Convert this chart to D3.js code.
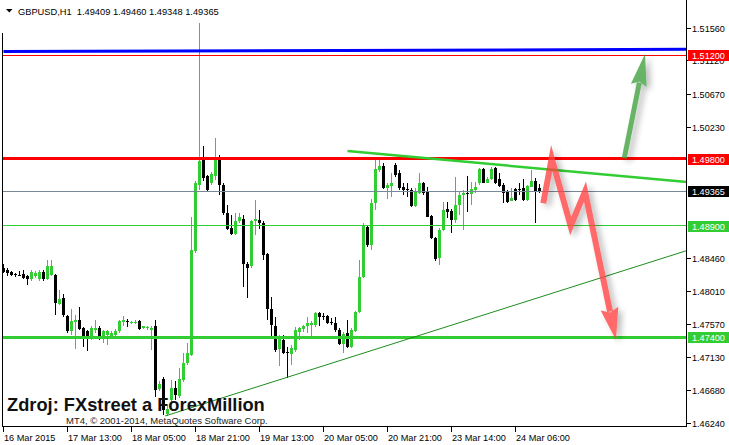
<!DOCTYPE html>
<html><head><meta charset="utf-8">
<script src="https://cdn.jsdelivr.net/npm/d3@7"></script>
<style>body{margin:0;background:#fff}svg{display:block}text{font-family:"Liberation Sans",Arial,sans-serif}</style>
</head><body><svg id="c" width="729" height="445"></svg>
<script>
// ---------------- DATA ----------------
const symbol = "GBPUSD,H1";
const lastQuote = [1.49409, 1.49460, 1.49348, 1.49365];

const open = [
1.48325,1.48298,1.48271,1.48244,1.48238,1.48251,1.48218,1.48177,1.48224,1.48184,
1.48271,1.48190,1.48238,1.48238,1.47847,1.47921,1.47685,1.47477,1.47598,1.47625,
1.47517,1.47477,1.47396,1.47497,1.47517,1.47396,1.47430,1.47396,1.47430,1.47477,
1.47598,1.47618,1.47591,1.47591,1.47611,1.47517,1.47524,1.47497,1.47544,1.46702,
1.46837,1.46365,1.46554,1.46709,1.46601,1.46823,1.47052,1.47160,1.48554,1.49450,
1.49786,1.49564,1.49470,1.49564,1.49806,1.49450,1.49066,1.48870,1.48796,1.48958,
1.48998,1.48392,1.48352,1.48958,1.48978,1.48931,1.48514,1.47786,1.47551,1.47241,
1.47362,1.47200,1.47173,1.47227,1.47474,1.47506,1.47551,1.47560,1.47564,1.47730,
1.47685,1.47685,1.47609,1.47595,1.47497,1.47308,1.47452,1.47264,1.47488,1.47739,
1.48206,1.48888,1.48641,1.49203,1.49651,1.49705,1.49405,1.49436,1.49719,1.49607,
1.49427,1.49389,1.49382,1.49167,1.49338,1.49473,1.49359,1.49032,1.48732,1.48462,
1.48843,1.49122,1.49103,1.48978,1.49180,1.49315,1.49346,1.49328,1.49382,1.49480,
1.49661,1.49480,1.49526,1.49674,1.49526,1.49450,1.49359,1.49238,1.49392,1.49396,
1.49405,1.49247,1.49427,1.49507,1.49409];

const high = [
1.48392,1.48332,1.48285,1.48265,1.48285,1.48298,1.48238,1.48305,1.48291,1.48305,
1.48298,1.48439,1.48439,1.48251,1.48035,1.47988,1.47699,1.47773,1.47699,1.47800,
1.47531,1.47497,1.47544,1.47631,1.47544,1.47497,1.47497,1.47477,1.47510,1.47631,
1.47685,1.47638,1.47611,1.47625,1.47625,1.47551,1.47551,1.47557,1.47631,1.46803,
1.46870,1.46473,1.46823,1.46810,1.46985,1.47187,1.47322,1.49018,1.49497,1.51627,
1.49968,1.49584,1.49631,1.50076,1.49854,1.49470,1.49180,1.49045,1.49066,1.49072,
1.49045,1.48419,1.48978,1.49247,1.49113,1.48965,1.48527,1.47941,1.47672,1.47430,
1.47430,1.47274,1.47295,1.47541,1.47541,1.47564,1.47672,1.47618,1.47743,1.47743,
1.47721,1.47699,1.47654,1.47676,1.47524,1.47474,1.47631,1.47524,1.47757,1.48439,
1.48938,1.48911,1.49257,1.49809,1.49809,1.49742,1.49473,1.49615,1.49742,1.49651,
1.49473,1.49473,1.49405,1.49405,1.49607,1.49490,1.49427,1.49045,1.48753,1.48866,
1.49225,1.49225,1.49126,1.49553,1.49373,1.49382,1.49571,1.49494,1.49494,1.49674,
1.49674,1.49553,1.49688,1.49696,1.49607,1.49473,1.49382,1.49405,1.49405,1.49473,
1.49526,1.49450,1.49651,1.49544,1.49460];

const low = [
1.48258,1.48224,1.48224,1.48211,1.48218,1.48177,1.48109,1.48157,1.48197,1.48157,
1.48163,1.48170,1.48224,1.47705,1.47834,1.47678,1.47450,1.47430,1.47234,1.47497,
1.47274,1.47207,1.47362,1.47450,1.47362,1.47328,1.47295,1.47383,1.47416,1.47450,
1.47551,1.47531,1.47577,1.47577,1.47497,1.47504,1.47497,1.47227,1.46594,1.46675,
1.46352,1.46338,1.46527,1.46554,1.46581,1.46796,1.47025,1.47140,1.48527,1.49382,
1.49497,1.49355,1.49450,1.49517,1.49315,1.49045,1.48843,1.48776,1.48776,1.48938,
1.48082,1.47921,1.48332,1.48776,1.48863,1.48439,1.47631,1.47416,1.47200,1.47012,
1.47173,1.46846,1.47025,1.47204,1.47362,1.47470,1.47457,1.47406,1.47541,1.47551,
1.47631,1.47577,1.47564,1.47474,1.47295,1.47191,1.47250,1.47250,1.47474,1.47721,
1.48193,1.48619,1.48574,1.49113,1.49628,1.49392,1.49257,1.49292,1.49561,1.49382,
1.49315,1.49292,1.49157,1.49157,1.49328,1.49315,1.49019,1.48718,1.48430,1.48372,
1.48834,1.49001,1.48799,1.48942,1.49045,1.48843,1.49090,1.49180,1.49338,1.49450,
1.49473,1.49473,1.49517,1.49463,1.49427,1.49211,1.49203,1.49234,1.49238,1.49315,
1.49238,1.49238,1.49419,1.48934,1.49348];

const close = [
1.48271,1.48258,1.48238,1.48231,1.48231,1.48197,1.48190,1.48271,1.48258,1.48271,
1.48190,1.48359,1.48352,1.47854,1.47908,1.47699,1.47477,1.47611,1.47625,1.47510,
1.47396,1.47396,1.47517,1.47517,1.47396,1.47477,1.47477,1.47450,1.47484,1.47611,
1.47625,1.47598,1.47598,1.47598,1.47510,1.47544,1.47531,1.47524,1.46689,1.46765,
1.46419,1.46433,1.46709,1.46621,1.46843,1.47052,1.47180,1.48574,1.49470,1.49766,
1.49537,1.49382,1.49604,1.49786,1.49450,1.49066,1.48863,1.48796,1.48965,1.49012,
1.48379,1.48325,1.48958,1.48992,1.48931,1.48507,1.47786,1.47564,1.47227,1.47376,
1.47187,1.47180,1.47248,1.47497,1.47520,1.47551,1.47584,1.47595,1.47730,1.47676,
1.47668,1.47595,1.47587,1.47497,1.47308,1.47443,1.47264,1.47497,1.47739,1.48214,
1.48897,1.48641,1.49211,1.49661,1.49705,1.49405,1.49450,1.49480,1.49584,1.49405,
1.49382,1.49378,1.49167,1.49373,1.49473,1.49338,1.49023,1.48732,1.48449,1.48843,
1.49113,1.49090,1.48978,1.49180,1.49315,1.49346,1.49328,1.49392,1.49427,1.49661,
1.49480,1.49526,1.49661,1.49473,1.49436,1.49346,1.49225,1.49270,1.49247,1.49386,
1.49247,1.49436,1.49507,1.49359,1.49365];

const timeTickBars = [0, 16, 32, 48, 64, 80, 96, 112, 128];
const timeLabels = ["16 Mar 2015","17 Mar 13:00","18 Mar 05:00","18 Mar 21:00","19 Mar 13:00",
                    "20 Mar 05:00","20 Mar 21:00","23 Mar 14:00","24 Mar 06:00"];
const priceTicks = [1.51560,1.51120,1.50670,1.50230,1.48460,1.48010,1.47570,1.47130,1.46680,1.46240];
const levelPrices = [1.51200, 1.49800, 1.49365, 1.48900, 1.47400];

// trend lines / annotations as [barIndex, price]
const blueLine   = [[0, 1.51247], [170.875, 1.51277]];
const upperTrend = [[86, 1.49907], [170.875, 1.49490]];
const lowerTrend = [[40.4, 1.46338], [170.875, 1.48567]];
const redPath    = [[134.95, 1.49203], [137.05, 1.49809], [141.8, 1.48897], [145.375, 1.49359], [153.125, 1.47362]];
const greenPath  = [[155.2, 1.49809], [160.375, 1.51214]];

const watermark = "Zdroj: FXstreet a ForexMillion";
const copyright = "MT4, \u00A9 2001-2014, MetaQuotes Software Corp.";

// ---------------- DRAW ----------------
const svg = d3.select("#c");
const W = 729, H = 445;
const plotL = 3, plotR = 687, plotB = 427;
const x = d3.scaleLinear().domain([0, 170.875]).range([3.5, plotR]);
const y = d3.scaleLinear().domain([1.46190, 1.51941]).range([plotB, 0]);
const crispY = v => Math.round(y(v) - 0.5) + 0.5;

const defs = svg.append("defs");
defs.append("clipPath").attr("id","plot").append("rect")
  .attr("x", plotL).attr("y", 0).attr("width", plotR - plotL).attr("height", plotB);
const f = defs.append("filter").attr("id","shadow").attr("x","-50%").attr("y","-50%").attr("width","200%").attr("height","200%");
f.append("feDropShadow").attr("dx",4).attr("dy",3).attr("stdDeviation",3)
  .attr("flood-color","#000").attr("flood-opacity",0.35);

svg.append("rect").attr("width",W).attr("height",H).attr("fill","#fff");

// fit a text's font size so it spans a target width
function fitSize(str, weight, target) {
  const t = svg.append("text").attr("font-size", 10).attr("font-weight", weight).style("white-space","pre").text(str);
  const w = t.node().getComputedTextLength();
  t.remove();
  return 10 * target / w;
}

const bars = d3.range(open.length).map(i => ({i, o: open[i], h: high[i], l: low[i], c: close[i]}));
const bull = "#32cd32", bear = "#000000";

// candles
const cg = svg.append("g").attr("clip-path","url(#plot)").attr("shape-rendering","crispEdges");
cg.selectAll("line.w").data(bars).join("line")
  .attr("x1", d => x(d.i)).attr("x2", d => x(d.i))
  .attr("y1", d => y(d.h)).attr("y2", d => y(d.l))
  .attr("stroke", d => d.c >= d.o ? bull : bear).attr("stroke-width", 1);
cg.selectAll("rect.b").data(bars).join("rect")
  .attr("x", d => x(d.i) - 1.5).attr("width", 3)
  .attr("y", d => y(Math.max(d.o, d.c)))
  .attr("height", d => Math.max(1, y(Math.min(d.o, d.c)) - y(Math.max(d.o, d.c))))
  .attr("fill", d => d.c >= d.o ? bull : bear);

// horizontal levels
const levelStyle = [
  {stroke:"#ff0000", w:1, box:"#ff0000"},
  {stroke:"#ff0000", w:3, box:"#ff0000"},
  {stroke:"#778899", w:1, box:"#000000"},
  {stroke:"#32cd32", w:1, box:"#32cd32"},
  {stroke:"#32cd32", w:3, box:"#32cd32"}
];
const lg = svg.append("g").attr("clip-path","url(#plot)");
lg.selectAll("line").data(levelPrices).join("line")
  .attr("shape-rendering","crispEdges")
  .attr("x1", plotL).attr("x2", plotR)
  .attr("y1", d => crispY(d)).attr("y2", d => crispY(d))
  .attr("stroke", (d,i) => levelStyle[i].stroke)
  .attr("stroke-width", (d,i) => levelStyle[i].w);

// trend lines
const line = d3.line().x(d => x(d[0])).y(d => y(d[1]));
lg.append("path").attr("d", line(blueLine)).attr("fill","none").attr("stroke","#0000ff").attr("stroke-width",3);
lg.append("path").attr("d", line(upperTrend)).attr("fill","none").attr("stroke","#32cd32").attr("stroke-width",2.5);
lg.append("path").attr("d", line(lowerTrend)).attr("fill","none").attr("stroke","#1e8c1e").attr("stroke-width",1);

// arrows
function arrow(pts, color, w, L, hw) {
  const sp = pts.map(p => [x(p[0]), y(p[1])]);
  const tip = sp[sp.length-1], prev = sp[sp.length-2];
  const dx = tip[0]-prev[0], dy = tip[1]-prev[1], len = Math.hypot(dx,dy);
  const u = [dx/len, dy/len], n = [-u[1], u[0]];
  const base = [tip[0]-L*u[0], tip[1]-L*u[1]];
  const shaft = sp.slice(0,-1).concat([[tip[0]-(L-3)*u[0], tip[1]-(L-3)*u[1]]]);
  const outer = svg.append("g").attr("opacity", 0.78);
  const g = outer.append("g").attr("filter","url(#shadow)");
  g.append("path").attr("d", d3.line()(shaft)).attr("fill","none")
    .attr("stroke", color).attr("stroke-width", w).attr("stroke-linejoin","miter").attr("stroke-miterlimit",10);
  g.append("path").attr("d", d3.line()([tip, [base[0]+hw*n[0], base[1]+hw*n[1]], [base[0]+4*u[0], base[1]+4*u[1]], [base[0]-hw*n[0], base[1]-hw*n[1]]]) + "Z")
    .attr("fill", color);
}
arrow(redPath, "#ff4040", 6, 32, 9);
arrow(greenPath, "#3c9f3c", 5, 32, 8);

// frame
svg.append("g").attr("shape-rendering","crispEdges").call(g => {
  g.append("line").attr("x1",2.5).attr("x2",2.5).attr("y1",33).attr("y2",plotB).attr("stroke","#000");
  g.append("line").attr("x1",plotR-0.5).attr("x2",plotR-0.5).attr("y1",0).attr("y2",plotB).attr("stroke","#000");
  g.append("line").attr("x1",2).attr("x2",plotR).attr("y1",plotB-0.5).attr("y2",plotB-0.5).attr("stroke","#000");
});

// price axis
const axFont = fitSize("1.51560", "normal", 33);
const ax = svg.append("g");
ax.selectAll("line").data(priceTicks).join("line")
  .attr("shape-rendering","crispEdges")
  .attr("x1", plotR).attr("x2", plotR+4)
  .attr("y1", d => crispY(d)).attr("y2", d => crispY(d))
  .attr("stroke","#000");
ax.selectAll("text").data(priceTicks).join("text")
  .attr("x", plotR+5).attr("y", d => y(d)+3.5)
  .attr("font-size", axFont).attr("fill","#000")
  .text(d => d.toFixed(5));
// level labels
const lb = svg.append("g");
lb.selectAll("rect").data(levelPrices).join("rect")
  .attr("x", plotR+1).attr("width", W-plotR-1)
  .attr("y", d => Math.round(y(d))-5).attr("height", 11)
  .attr("fill", (d,i) => levelStyle[i].box);
lb.selectAll("text").data(levelPrices).join("text")
  .attr("x", plotR+5).attr("y", d => Math.round(y(d))+4)
  .attr("font-size", axFont).attr("fill","#fff")
  .text(d => d.toFixed(5));

// time axis
const tFont = fitSize("17 Mar 13:00", "normal", 54);
const tx = svg.append("g");
tx.selectAll("line").data(timeTickBars).join("line")
  .attr("shape-rendering","crispEdges")
  .attr("x1", d => x(d)).attr("x2", d => x(d))
  .attr("y1", plotB).attr("y2", plotB+5).attr("stroke","#000");
tx.selectAll("text").data(timeTickBars).join("text")
  .attr("x", d => x(d)+0.5).attr("y", 440.5)
  .attr("font-size", tFont).attr("fill","#000")
  .text((d,i) => timeLabels[i]);

// header
const headStr = symbol + "  " + lastQuote.map(v => v.toFixed(5)).join(" ");
svg.append("path").attr("d","M6,9L12.5,9L9.25,12.5Z").attr("fill","#000");
svg.append("text").attr("x",18).attr("y",14.5).attr("font-size", fitSize(headStr, "normal", 201)).attr("fill","#000")
  .style("white-space","pre")
  .text(headStr);

// watermark
svg.append("text").attr("x",7).attr("y",411).attr("font-size", fitSize(watermark, "bold", 258)).attr("font-weight","bold").attr("fill","#111")
  .text(watermark);
svg.append("text").attr("x",66).attr("y",423.5).attr("font-size", fitSize(copyright, "normal", 202)).attr("fill","#1a1a1a")
  .text(copyright);
</script></body></html>
